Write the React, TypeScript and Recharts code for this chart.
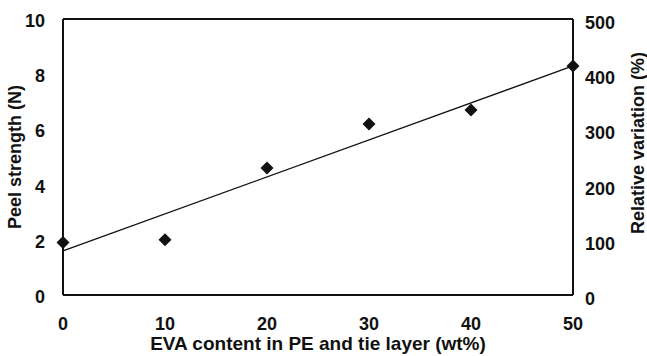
import {ComposedChart, Line, Scatter, XAxis, YAxis, ReferenceLine} from "recharts";

const evaContent = [0, 10, 20, 30, 40, 50];
const peelStrength = [1.9, 2.0, 4.6, 6.2, 6.7, 8.3];
const trendLine = [1.6, null, null, null, null, 8.3];

const xTicks = [0, 10, 20, 30, 40, 50];
const leftTicks = [0, 2, 4, 6, 8, 10];
const rightTicks = [0, 100, 200, 300, 400, 500];

const font = '"Liberation Sans", Arial, sans-serif';
const ink = '#111';
const fs = 18;

const data = evaContent.map((x, i) => ({x, peel: peelStrength[i], trend: trendLine[i]}));

function Diamond(props: any) {
    const {cx, cy} = props;
    const r = 6.5;
    return <polygon points={`${cx},${cy - r} ${cx + r},${cy} ${cx},${cy + r} ${cx - r},${cy}`} fill={ink}/>;
}

function LeftTick({x, y, payload}: any) {
    return <text x={x - 10} y={y + 8} textAnchor="end" fontFamily={font} fontWeight="bold" fontSize={fs} fill={ink}>{payload.value}</text>;
}

function RightTick({x, y, payload}: any) {
    return <text x={x + 4} y={y + 10} textAnchor="start" fontFamily={font} fontWeight="bold" fontSize={fs} fill={ink}>{payload.value}</text>;
}

function BottomTick({x, y, payload}: any) {
    return <text x={x} y={y + 27} textAnchor="middle" fontFamily={font} fontWeight="bold" fontSize={fs} fill={ink}>{payload.value}</text>;
}

export default function App() {
    return (
        <>
            <style>{`body{margin:0}`}</style>
            <ComposedChart width={647} height={356} data={data} margin={{top: 19, right: 0, left: 0, bottom: 0}}>
                <XAxis dataKey="x" type="number" domain={[0, 50]} ticks={xTicks} height={61}
                       axisLine={{stroke: ink, strokeWidth: 2}} tickLine={false} tick={<BottomTick/>}
                       label={({viewBox}: any) => (
                           <text x={viewBox.x + viewBox.width / 2} y={viewBox.y + 55} textAnchor="middle"
                                 fontFamily={font} fontWeight="bold" fontSize={19} fill={ink}>
                               EVA content in PE and tie layer (wt%)
                           </text>
                       )}/>
                <YAxis yAxisId="left" domain={[0, 10]} ticks={leftTicks} width={63}
                       axisLine={{stroke: ink, strokeWidth: 2}} tickLine={false} tick={<LeftTick/>}
                       label={({viewBox}: any) => (
                           <text x={21} y={viewBox.y + viewBox.height / 2} textAnchor="middle"
                                 transform={`rotate(-90, 21, ${viewBox.y + viewBox.height / 2})`}
                                 fontFamily={font} fontWeight="bold" fontSize={fs} fill={ink}>
                               Peel strength (N)
                           </text>
                       )}/>
                <YAxis yAxisId="right" orientation="right" domain={[0, 500]} ticks={rightTicks} width={74}
                       axisLine={{stroke: ink, strokeWidth: 2}} tickLine={false} tick={<RightTick/>}
                       label={() => (
                           <text x={644} y={143} textAnchor="middle"
                                 transform={`rotate(-90, 644, 143)`}
                                 fontFamily={font} fontWeight="bold" fontSize={fs} fill={ink}>
                               Relative variation (%)
                           </text>
                       )}/>
                <ReferenceLine yAxisId="left" y={10} stroke={ink} strokeWidth={2}/>
                <Line yAxisId="right" dataKey="peel" stroke="none" dot={false} activeDot={false}
                      legendType="none" isAnimationActive={false}/>
                <Line yAxisId="left" dataKey="trend" connectNulls dot={false} stroke={ink} strokeWidth={1.3}
                      isAnimationActive={false}/>
                <Scatter yAxisId="left" dataKey="peel" shape={<Diamond/>} isAnimationActive={false}/>
            </ComposedChart>
        </>
    );
}
